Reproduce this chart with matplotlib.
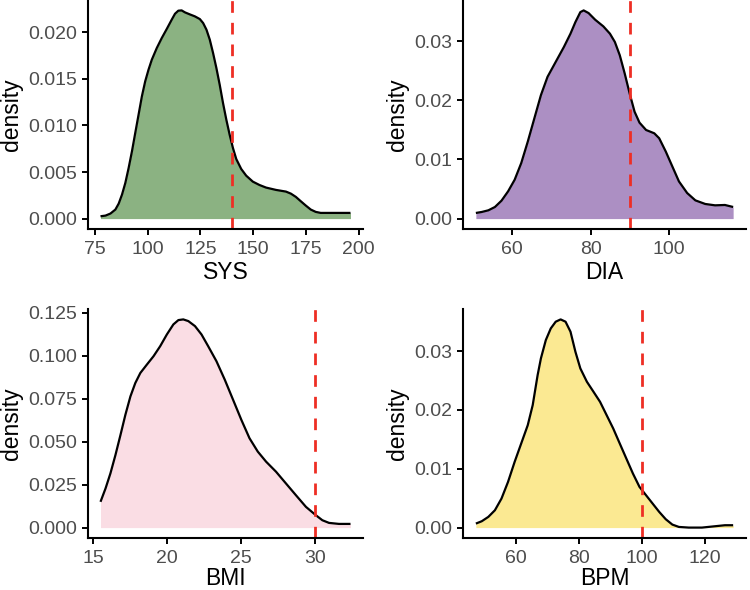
import matplotlib
matplotlib.use("Agg")
import matplotlib.pyplot as plt
import numpy as np

plt.rcParams['font.family'] = ['Liberation Sans', 'DejaVu Sans']

# ---- data ----
sys_x = [77.67, 80.02, 82.37, 84.72, 86.29, 87.86, 89.43, 91.00, 92.57, 94.13, 95.70, 97.27,
         98.84, 100.41, 101.98, 104.33, 106.68, 109.04, 111.39, 112.96, 114.53, 116.10, 117.66,
         120.01, 122.37, 124.72, 126.29, 127.86, 129.43, 130.99, 132.56, 134.13, 135.70, 137.27,
         138.84, 140.40, 141.97, 144.32, 146.68, 149.81, 152.95, 156.09, 160.79, 165.50, 167.85,
         170.20, 172.55, 174.91, 177.26, 179.61, 181.96, 187.45, 196.08]
sys_y = [0.00025, 0.00032, 0.00054, 0.00097, 0.00161, 0.00258, 0.00383, 0.00544, 0.00723,
         0.00920, 0.01116, 0.01313, 0.01474, 0.01599, 0.01707, 0.01832, 0.01939, 0.02036,
         0.02136, 0.02200, 0.02233, 0.02236, 0.02215, 0.02193, 0.02172, 0.02143, 0.02100,
         0.02029, 0.01922, 0.01778, 0.01617, 0.01438, 0.01241, 0.01062, 0.00901, 0.00758,
         0.00640, 0.00533, 0.00461, 0.00397, 0.00361, 0.00333, 0.00308, 0.00290, 0.00268,
         0.00233, 0.00186, 0.00140, 0.00097, 0.00072, 0.00061, 0.00061, 0.00061]

dia_x = [50.67, 52.18, 53.87, 55.55, 57.23, 58.91, 60.59, 62.27, 63.95, 65.63, 67.31, 69.00,
         71.09, 73.19, 74.87, 76.13, 77.39, 78.24, 79.50, 81.18, 83.28, 84.96, 86.22, 87.48,
         88.74, 90.00, 91.26, 92.52, 94.20, 96.30, 97.56, 99.24, 100.92, 102.61, 104.71,
         106.81, 109.33, 111.85, 114.37, 116.47]
dia_y = [0.00095, 0.00112, 0.00140, 0.00196, 0.00303, 0.00460, 0.00656, 0.00937, 0.01301,
         0.01694, 0.02086, 0.02395, 0.02647, 0.02900, 0.03124, 0.03320, 0.03488, 0.03517,
         0.03472, 0.03360, 0.03247, 0.03124, 0.02984, 0.02759, 0.02451, 0.02114, 0.01806,
         0.01621, 0.01497, 0.01441, 0.01357, 0.01133, 0.00881, 0.00628, 0.00432, 0.00308,
         0.00247, 0.00224, 0.00230, 0.00196]

bmi_x = [15.51, 15.85, 16.18, 16.52, 16.86, 17.19, 17.53, 17.86, 18.20, 18.64, 19.09, 19.54,
         19.99, 20.43, 20.77, 21.10, 21.44, 21.89, 22.33, 22.78, 23.34, 23.90, 24.46, 25.02,
         25.57, 26.13, 26.69, 27.36, 28.03, 28.70, 29.38, 30.05, 30.49, 30.94, 31.61, 32.39]
bmi_y = [0.01499, 0.02278, 0.03154, 0.04225, 0.05393, 0.06562, 0.07632, 0.08411, 0.08995,
         0.09482, 0.09969, 0.10553, 0.11235, 0.11819, 0.12072, 0.12111, 0.12013, 0.11721,
         0.11235, 0.10553, 0.09677, 0.08606, 0.07438, 0.06269, 0.05199, 0.04420, 0.03836,
         0.03252, 0.02570, 0.01889, 0.01207, 0.00720, 0.00428, 0.00273, 0.00214, 0.00214]

bpm_x = [47.40, 49.27, 51.35, 53.44, 55.52, 57.60, 59.69, 61.77, 63.85, 65.42, 66.98, 68.02,
         69.58, 71.15, 72.71, 74.27, 75.83, 77.40, 78.96, 80.52, 82.60, 84.69, 86.77, 88.85,
         90.94, 93.02, 95.10, 97.19, 99.27, 101.35, 103.44, 105.52, 107.60, 109.69, 111.77,
         114.90, 119.06, 123.23, 126.35, 128.96]
bpm_y = [0.00068, 0.00108, 0.00182, 0.00295, 0.00493, 0.00777, 0.01117, 0.01429, 0.01741,
         0.02082, 0.02592, 0.02876, 0.03188, 0.03386, 0.03500, 0.03539, 0.03500, 0.03330,
         0.02989, 0.02706, 0.02479, 0.02309, 0.02138, 0.01912, 0.01685, 0.01429, 0.01174,
         0.00919, 0.00692, 0.00550, 0.00408, 0.00267, 0.00142, 0.00051, 0.00011, 0.00000,
         0.00000, 0.00023, 0.00040, 0.00040]

labels = ["SYS", "DIA", "BMI", "BPM"]
thresholds = [140, 90, 30, 100]
fills = ["#8BB282", "#AC8FC3", "#FADDE4", "#FBE992"]
xticks = [[75, 100, 125, 150, 175, 200], [60, 80, 100], [15, 20, 25, 30], [60, 80, 100, 120]]
yticks = [[0.000, 0.005, 0.010, 0.015, 0.020], [0.00, 0.01, 0.02, 0.03],
          [0.000, 0.025, 0.050, 0.075, 0.100, 0.125], [0.00, 0.01, 0.02, 0.03]]
yfmt = ["%.3f", "%.2f", "%.3f", "%.2f"]
xs = [sys_x, dia_x, bmi_x, bpm_x]
ys = [sys_y, dia_y, bmi_y, bpm_y]

# ---- layout ----
fig = plt.figure(figsize=(7.5, 5.9), dpi=100)
W, H = 750, 590
boxes = [(88, 0, 363, 229), (463, 0, 746, 229), (88, 309, 363, 538), (463, 309, 746, 538)]

for i in range(4):
    l, t, r, b = boxes[i]
    ax = fig.add_axes([l / W, 1 - b / H, (r - l) / W, (b - t) / H])
    x = np.array(xs[i]); y = np.array(ys[i])
    ax.fill_between(x, 0, y, color=fills[i], linewidth=0)
    ax.plot(x, y, color="black", lw=1.6, solid_capstyle="butt", solid_joinstyle="round")
    ax.axvline(thresholds[i], color="#EE2E24", lw=2.0, linestyle=(0, (4.2, 3.6)))
    # ggplot-like 5% expansion
    xr = x.max() - x.min()
    ax.set_xlim(x.min() - 0.05 * xr, x.max() + 0.05 * xr)
    ym = y.max()
    ax.set_ylim(-0.05 * ym, 1.05 * ym)
    ax.set_xticks(xticks[i])
    ax.set_yticks(yticks[i])
    ax.set_yticklabels([yfmt[i] % v for v in yticks[i]])
    for s in ["top", "right"]:
        ax.spines[s].set_visible(False)
    for s in ["left", "bottom"]:
        ax.spines[s].set_linewidth(1.5)
        ax.spines[s].set_color("black")
    ax.tick_params(axis="both", length=4.5, width=1.4, color="black",
                   labelsize=14, labelcolor="#4D4D4D", pad=3)
    ax.tick_params(axis="x", pad=4)
    ax.set_xlabel(labels[i], fontsize=16.5, color="black", labelpad=2 if i < 2 else 0)
    ax.set_ylabel("density", fontsize=16.5, color="black", labelpad=4)
    ax.set_facecolor("white")

fig.savefig("out.png", dpi=100, facecolor="white")
